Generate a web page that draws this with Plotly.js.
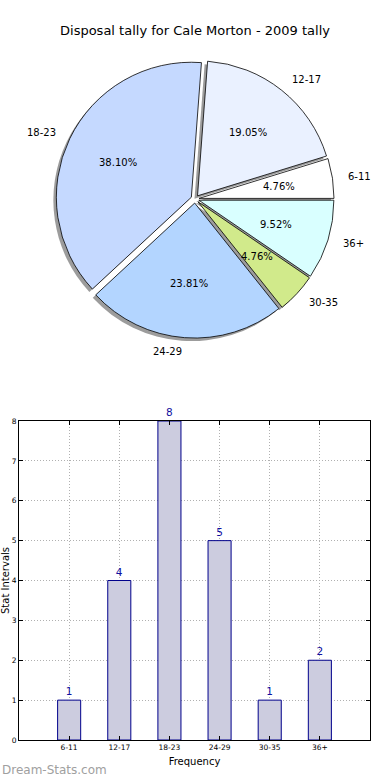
<!DOCTYPE html>
<html><head><meta charset="utf-8">
<script src="https://cdn.plot.ly/plotly-3.0.1.min.js"></script>
<style>html,body{margin:0;padding:0;background:#fff}#chart{width:390px;height:780px}</style>
</head><body><div id="chart"></div>
<script>
// ---- data ----
const categories = ['6-11', '12-17', '18-23', '24-29', '30-35', '36+'];
const tallies = [1, 4, 8, 5, 1, 2];
const sliceColors = ['#ffffff', '#eaf1ff', '#c5d9ff', '#b3d5ff', '#d1ea8b', '#d9ffff'];
const chartTitle = 'Disposal tally for Cale Morton - 2009 tally';
const xTitle = 'Frequency';
const yTitle = 'Stat Intervals';
const watermark = 'Dream-Stats.com';

// ---- geometry ----
const W = 390, H = 780;
const pull = 0.03;
const pieCx = 195, pieCy = 199, pieR = 135;
const half = pieR * (1 + pull);
const sh = 3;
const pieDomain = {x: [(pieCx - half) / W, (pieCx + half) / W], y: [1 - (pieCy + half) / H, 1 - (pieCy - half) / H]};
const shadowDomain = {x: [(pieCx - half - sh) / W, (pieCx + half - sh) / W], y: [1 - (pieCy + half + sh) / H, 1 - (pieCy - half + sh) / H]};

const FONT = 'DejaVu Sans, Liberation Sans, sans-serif';

const total = tallies.reduce((a, b) => a + b, 0);
// plotly places the first counterclockwise slice clockwise of the rotation point,
// so shift by the first slice so that it starts at 3 o'clock (as in the original)
const rot = 90 - 360 * tallies[0] / total;

const shadow = {
  type: 'pie', labels: categories, values: tallies, sort: false, direction: 'counterclockwise', rotation: rot,
  pull: pull, domain: shadowDomain, textinfo: 'none', hoverinfo: 'skip', showlegend: false,
  marker: {colors: categories.map(() => '#9c9c9c'), line: {width: 0}}
};
const pie = {
  type: 'pie', labels: categories, values: tallies, sort: false, direction: 'counterclockwise', rotation: rot,
  pull: pull, domain: pieDomain, textinfo: 'none', hoverinfo: 'label+percent', showlegend: false,
  marker: {colors: sliceColors, line: {color: '#000', width: 0.8}}
};
const bars = {
  type: 'bar', x: categories, y: tallies, xaxis: 'x', yaxis: 'y', width: 0.46,
  marker: {color: '#ccccdf', line: {color: '#00008b', width: 1}},
  text: tallies.map(String), textposition: 'outside', cliponaxis: false,
  textfont: {size: 10.5, color: '#1010a0', family: FONT}, showlegend: false, hoverinfo: 'x+y'
};

// pie labels computed from data
const ann = [];
let acc = 0;
tallies.forEach((v, i) => {
  const mid = (acc + v / 2) / total * 2 * Math.PI; acc += v;
  const c = Math.cos(mid), s = Math.sin(mid);
  const ox = pieCx + pull * pieR * c, oy = pieCy - pull * pieR * s;
  ann.push({xref: 'paper', yref: 'paper', x: (ox + 0.6 * pieR * c) / W, y: 1 - (oy - 0.6 * pieR * s) / H,
    text: (100 * v / total).toFixed(2) + '%', showarrow: false, xanchor: 'center', yanchor: 'middle',
    font: {size: 10, color: '#000', family: FONT}});
  ann.push({xref: 'paper', yref: 'paper', x: (ox + 1.1 * pieR * c) / W, y: 1 - (oy - 1.1 * pieR * s) / H,
    text: categories[i], showarrow: false, xanchor: c > 0 ? 'left' : 'right', yanchor: 'middle',
    font: {size: 10, color: '#000', family: FONT}});
});
ann.push({xref: 'paper', yref: 'paper', x: 0, y: 1 - 770 / H, xanchor: 'left', yanchor: 'middle', showarrow: false,
  text: watermark, font: {size: 12, color: '#a0a0a0', family: FONT}});

const axCommon = {
  showline: true, linecolor: '#000', linewidth: 1, mirror: 'ticks', ticks: 'inside', ticklen: 4, tickcolor: '#000',
  showgrid: true, gridcolor: '#b0b0b0', griddash: '1px,2px', gridwidth: 1, zeroline: false, fixedrange: true,
  tickfont: {size: 7.5, color: '#000', family: FONT}
};

const layout = {
  width: W, height: H, margin: {l: 0, r: 0, t: 0, b: 0}, paper_bgcolor: '#fff', plot_bgcolor: '#fff',
  font: {family: FONT, color: '#000'},
  title: {text: chartTitle, x: 0.5, xanchor: 'center', xref: 'paper', y: 1 - 30 / H, yref: 'container', yanchor: 'middle',
    font: {size: 13, color: '#000', family: FONT}},
  xaxis: Object.assign({}, axCommon, {domain: [19 / W, 370 / W], anchor: 'y', type: 'category', range: [-1, 6],
    title: {text: xTitle, font: {size: 10, color: '#000', family: FONT}, standoff: 6}}),
  yaxis: Object.assign({}, axCommon, {domain: [1 - 740 / H, 1 - 421 / H], anchor: 'x', range: [0, 8], dtick: 1,
    title: {text: yTitle, font: {size: 10, color: '#000', family: FONT}, standoff: 2}}),
  annotations: ann, bargap: 0
};

Plotly.newPlot('chart', [shadow, pie, bars], layout, {displayModeBar: false, staticPlot: true});
</script>
</body></html>
